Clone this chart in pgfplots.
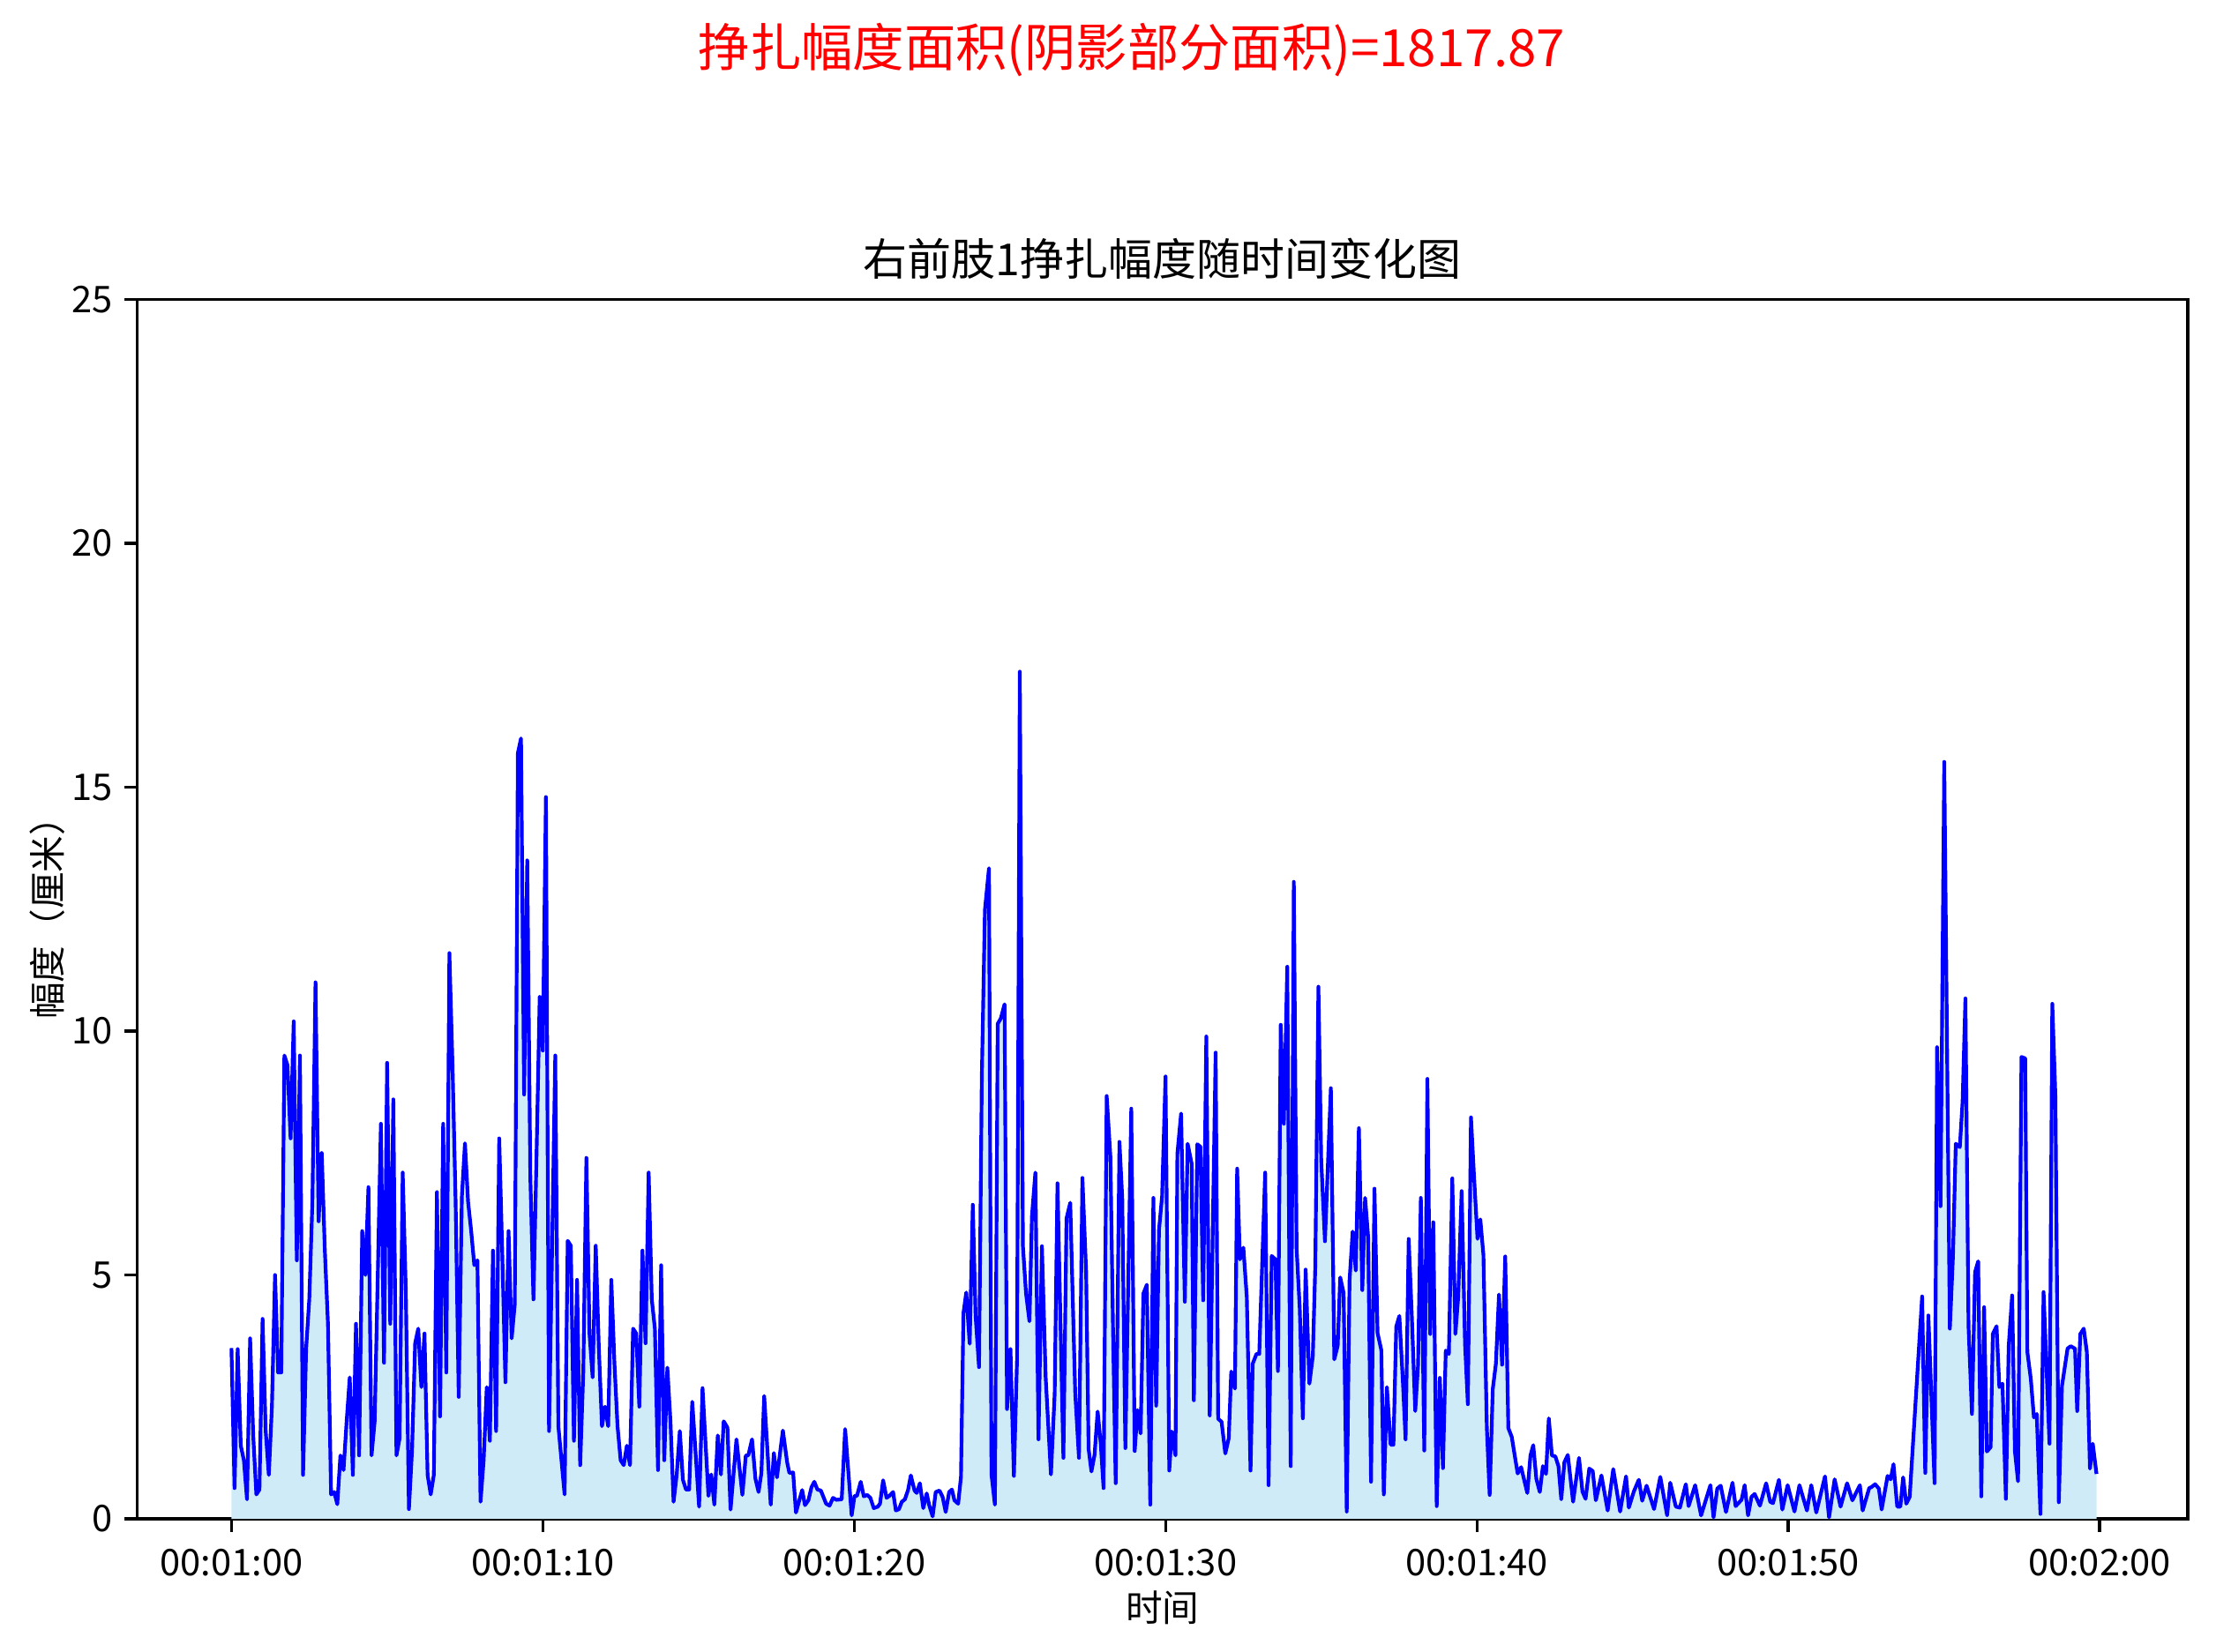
\documentclass[border=0pt]{standalone}
\usepackage{fontspec}
\setmainfont{Noto Sans CJK SC}
\usepackage{pgfplots}
\pgfplotsset{compat=1.18}
\usepackage{pgfplotstable}
\definecolor{fillc}{RGB}{207,235,247}
\pgfplotstableread{
t v
60.0 3.50
60.1 0.63
60.2 3.48
60.3 1.50
60.4 1.20
60.5 0.40
60.6 3.70
60.7 1.70
60.8 0.50
60.9 0.60
61.0 4.10
61.1 1.80
61.2 0.90
61.3 2.30
61.4 5.00
61.5 3.00
61.6 3.00
61.7 9.50
61.8 9.30
61.9 7.80
62.0 10.20
62.1 5.30
62.2 9.50
62.3 0.90
62.4 3.50
62.5 4.50
62.6 6.50
62.7 11.00
62.8 6.10
62.9 7.50
63.0 5.50
63.1 4.00
63.2 0.50
63.3 0.55
63.4 0.30
63.5 1.30
63.6 1.00
63.7 2.00
63.8 2.90
63.9 0.90
64.0 4.00
64.1 1.30
64.2 5.90
64.3 5.00
64.4 6.80
64.5 1.30
64.6 2.00
64.7 5.00
64.8 8.10
64.9 3.20
65.0 9.35
65.1 4.00
65.2 8.60
65.3 1.30
65.4 1.65
65.5 7.10
65.6 4.70
65.7 0.20
65.8 1.40
65.9 3.60
66.0 3.90
66.1 2.70
66.2 3.80
66.3 0.90
66.4 0.50
66.5 0.90
66.6 6.70
66.7 2.10
66.8 8.10
66.9 3.00
67.0 11.60
67.1 9.30
67.2 6.50
67.3 2.50
67.4 6.60
67.5 7.70
67.6 6.50
67.7 5.90
67.8 5.20
67.9 5.30
68.0 0.35
68.1 1.20
68.2 2.70
68.3 1.60
68.4 5.50
68.5 1.80
68.6 7.80
68.7 5.40
68.8 2.80
68.9 5.90
69.0 3.70
69.1 4.40
69.2 15.70
69.3 16.00
69.4 8.70
69.5 13.50
69.6 7.00
69.7 4.50
69.8 7.50
69.9 10.70
70.0 9.60
70.1 14.80
70.2 1.80
70.3 5.60
70.4 9.50
70.5 1.90
70.6 1.20
70.7 0.50
70.8 5.70
70.9 5.60
71.0 1.60
71.1 4.90
71.2 1.10
71.3 3.00
71.4 7.40
71.5 3.80
71.6 2.90
71.7 5.60
71.8 3.50
71.9 1.90
72.0 2.30
72.1 1.90
72.2 4.90
72.3 3.20
72.4 1.90
72.5 1.20
72.6 1.10
72.7 1.50
72.8 1.10
72.9 3.90
73.0 3.80
73.1 2.30
73.2 5.50
73.3 3.60
73.4 7.10
73.5 4.50
73.6 3.90
73.7 1.00
73.8 5.20
73.9 1.20
74.0 3.10
74.1 2.00
74.2 0.35
74.3 0.90
74.4 1.80
74.5 0.80
74.6 0.60
74.7 0.60
74.8 2.40
75.02 0.25
75.13 2.68
75.32 0.47
75.41 0.91
75.51 0.29
75.62 1.71
75.72 0.91
75.81 2.00
75.93 1.87
76.03 0.19
76.22 1.63
76.41 0.49
76.52 1.30
76.60 1.30
76.72 1.63
76.83 0.82
76.93 0.55
77.02 0.94
77.11 2.52
77.32 0.29
77.42 1.35
77.52 0.85
77.71 1.81
77.85 1.15
77.92 0.94
78.04 0.95
78.13 0.13
78.33 0.59
78.42 0.28
78.53 0.38
78.63 0.65
78.72 0.76
78.82 0.60
78.93 0.58
79.10 0.31
79.21 0.27
79.32 0.43
79.43 0.39
79.60 0.40
79.71 1.84
79.92 0.07
80.01 0.47
80.09 0.47
80.21 0.76
80.31 0.46
80.42 0.49
80.52 0.43
80.63 0.22
80.76 0.25
80.83 0.31
80.93 0.79
81.04 0.43
81.13 0.47
81.25 0.55
81.34 0.17
81.44 0.20
81.53 0.35
81.63 0.40
81.73 0.59
81.82 0.89
81.94 0.58
82.01 0.53
82.11 0.73
82.22 0.22
82.33 0.52
82.41 0.28
82.52 0.05
82.62 0.55
82.74 0.58
82.84 0.45
82.94 0.14
83.05 0.55
83.14 0.60
83.22 0.38
83.34 0.31
83.43 0.86
83.51 4.22
83.60 4.64
83.71 3.59
83.81 6.44
83.90 4.16
84.01 3.11
84.10 9.06
84.20 12.49
84.33 13.34
84.41 0.91
84.52 0.29
84.61 10.15
84.71 10.26
84.83 10.55
84.91 2.25
85.02 3.48
85.13 0.88
85.23 3.25
85.32 17.37
85.42 5.59
85.52 4.62
85.63 4.05
85.71 6.21
85.82 7.10
85.92 1.63
86.03 5.59
86.15 2.91
86.32 0.91
86.44 2.57
86.53 6.88
86.72 1.25
86.82 6.16
86.94 6.48
87.10 2.57
87.22 1.25
87.33 6.99
87.45 5.07
87.53 1.43
87.62 0.97
87.72 1.31
87.82 2.20
87.92 1.54
88.01 0.63
88.11 8.67
88.23 7.42
88.32 3.62
88.40 0.73
88.52 7.73
88.61 6.58
88.71 1.45
88.90 8.41
89.01 1.39
89.10 2.23
89.20 1.75
89.29 4.62
89.40 4.80
89.51 0.29
89.61 6.58
89.70 2.32
89.79 5.92
89.89 6.62
90.00 9.07
90.12 0.99
90.20 1.79
90.32 1.30
90.38 7.48
90.50 8.31
90.62 4.45
90.71 7.69
90.84 7.28
90.91 2.43
91.02 7.68
91.12 7.63
91.21 4.48
91.31 9.89
91.42 2.12
91.61 9.56
91.69 2.05
91.80 1.99
91.92 1.34
92.03 1.65
92.11 3.02
92.23 2.67
92.30 7.18
92.39 5.32
92.50 5.56
92.61 4.55
92.73 0.99
92.80 3.18
92.92 3.38
93.01 3.38
93.20 7.10
93.31 0.69
93.41 5.39
93.53 5.32
93.61 3.03
93.70 10.13
93.80 8.10
93.91 11.32
94.02 1.08
94.12 13.06
94.21 5.54
94.31 4.33
94.41 2.06
94.50 5.11
94.62 2.77
94.73 3.33
94.81 5.19
94.91 10.91
95.00 7.36
95.12 5.69
95.31 8.83
95.42 3.27
95.53 3.55
95.61 4.95
95.72 4.63
95.82 0.15
95.91 4.89
96.01 5.89
96.11 5.09
96.21 8.01
96.32 4.69
96.41 6.58
96.51 5.76
96.60 0.76
96.71 6.77
96.81 3.81
96.93 3.46
97.01 0.50
97.11 2.70
97.23 1.52
97.32 1.52
97.41 3.94
97.51 4.16
97.62 2.86
97.71 1.63
97.81 5.74
97.91 4.16
98.02 2.21
98.11 3.15
98.20 6.58
98.31 1.40
98.41 9.02
98.50 3.79
98.60 6.08
98.71 0.26
98.81 2.89
98.91 1.04
99.00 3.45
99.10 3.38
99.21 6.98
99.31 3.79
99.40 4.55
99.51 6.72
99.62 3.57
99.71 2.35
99.81 8.23
99.90 7.12
100.02 5.74
100.11 6.14
100.21 5.41
100.32 1.86
100.41 0.49
100.51 2.66
100.61 3.18
100.71 4.60
100.81 3.16
100.91 5.38
101.01 1.86
101.12 1.68
101.22 1.28
101.31 0.93
101.42 1.06
101.51 0.82
101.62 0.53
101.72 1.30
101.81 1.51
101.91 0.82
102.02 0.55
102.12 1.08
102.22 0.92
102.31 2.06
102.41 1.30
102.52 1.28
102.62 1.08
102.71 0.40
102.81 1.16
102.92 1.31
103.09 0.35
103.28 1.25
103.39 0.56
103.49 0.41
103.61 1.03
103.72 0.98
103.82 0.38
104.00 0.89
104.20 0.17
104.38 1.02
104.60 0.15
104.79 0.87
104.88 0.23
105.04 0.56
105.20 0.80
105.31 0.37
105.45 0.68
105.69 0.20
105.89 0.86
106.11 0.07
106.21 0.74
106.39 0.25
106.52 0.23
106.71 0.71
106.80 0.26
107.01 0.69
107.20 0.07
107.50 0.69
107.60 0.03
107.72 0.62
107.83 0.68
108.00 0.14
108.21 0.74
108.31 0.26
108.50 0.39
108.60 0.69
108.71 0.07
108.82 0.45
108.92 0.51
109.09 0.27
109.29 0.73
109.42 0.35
109.51 0.32
109.70 0.80
109.81 0.19
109.98 0.69
110.20 0.15
110.36 0.69
110.60 0.17
110.74 0.69
110.90 0.13
111.18 0.87
111.31 0.03
111.49 0.81
111.68 0.25
111.89 0.73
112.06 0.38
112.30 0.69
112.39 0.17
112.60 0.63
112.67 0.65
112.79 0.71
112.91 0.62
113.00 0.19
113.19 0.88
113.29 0.81
113.38 1.12
113.50 0.25
113.60 0.25
113.69 0.85
113.79 0.31
113.90 0.45
114.30 4.56
114.40 0.94
114.50 4.17
114.70 0.73
114.78 9.67
114.89 6.41
115.01 15.52
115.19 3.90
115.29 5.38
115.38 7.69
115.51 7.62
115.60 8.56
115.69 10.67
115.79 3.95
115.90 2.15
116.00 5.06
116.10 5.28
116.20 0.46
116.29 4.34
116.38 1.38
116.50 1.47
116.57 3.79
116.69 3.95
116.78 2.70
116.88 2.77
116.99 0.41
117.08 3.54
117.19 4.58
117.28 1.38
117.38 0.77
117.49 9.47
117.61 9.44
117.68 3.42
117.79 2.87
117.89 2.08
117.98 2.15
118.10 0.10
118.20 4.65
118.39 1.54
118.48 10.56
118.58 8.67
118.69 0.34
118.79 2.72
118.97 3.49
119.07 3.54
119.21 3.49
119.28 2.21
119.38 3.79
119.49 3.90
119.59 3.42
119.69 1.03
119.78 1.54
119.90 0.92
}\datatable
\begin{document}
\begin{tikzpicture}
\begin{axis}[
  at={(0pt,0pt)}, anchor=south west,
  scale only axis, width=557.9pt, height=331.8pt,
  xmin=56.97, xmax=122.83, ymin=0, ymax=25,
  xtick={60,70,80,90,100,110,120},
  xticklabels={00:01:00,00:01:10,00:01:20,00:01:30,00:01:40,00:01:50,00:02:00},
  ytick={0,5,10,15,20,25},
  /pgf/number format/assume math mode=true,
  tick align=outside, major tick length=3.5pt,
  xtick pos=lower, ytick pos=left,
  every tick/.style={black, line width=0.8pt},
  axis line style={line width=0.8pt},
  tick label style={font=\fontsize{10}{12}\selectfont},
  xticklabel style={anchor=center, yshift=-8.3pt},
  yticklabel style={anchor=east, xshift=0.3pt},
  xlabel={时间}, ylabel={幅度（厘米）},
  label style={font=\fontsize{10}{12}\selectfont},
  xlabel style={at={(axis description cs:0.5,-0.0729)}, anchor=center},
  ylabel style={at={(axis description cs:-0.0439,0.5)}, anchor=center, rotate=0},
  title={右前肢1挣扎幅度随时间变化图},
  title style={at={(axis description cs:0.5,1.0338)}, anchor=center, yshift=-6pt, font=\fontsize{12}{14}\selectfont},
  clip=true,
]
\addplot[fill=fillc, draw=none] table[x=t, y=v] {\datatable} \closedcycle;
\addplot[blue, line width=1pt, line join=round] table[x=t, y=v] {\datatable};
\end{axis}
\node[text=red, font=\fontsize{14}{16}\selectfont, anchor=center] at (270.6pt,399.8pt) {挣扎幅度面积(阴影部分面积)=1817.87};
\pgfresetboundingbox
\path[use as bounding box] (-37.3pt,-36pt) rectangle (565.6pt,413.3pt);
\end{tikzpicture}
\end{document}
